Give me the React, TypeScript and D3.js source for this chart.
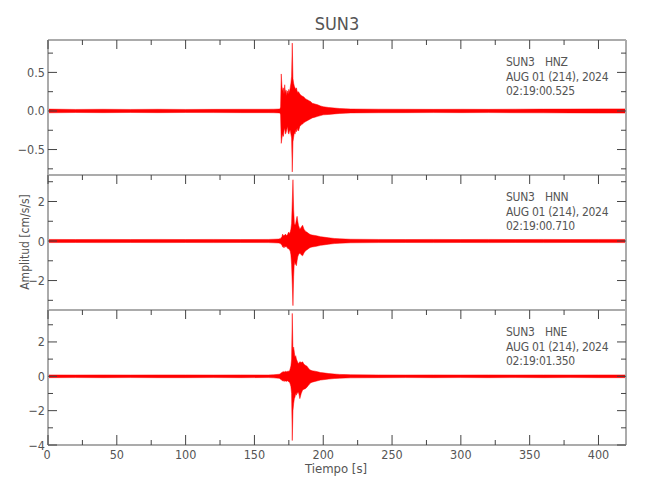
import * as d3 from "d3";

// ─── Data (envelope of each trace) ───────────────────────────────────────────

const STATION = "SUN3";
const DATE_LABEL = "AUG 01 (214), 2024";
const CHANNELS = ["HNZ", "HNN", "HNE"];
const START_TIMES = ["02:19:00.525", "02:19:00.710", "02:19:01.350"];

// time in seconds (shared grid, denser around the event)
const TIME = [
  0, 20, 40, 60, 80, 100, 120, 140, 160, 164,
  168, 168.5, 169, 169.5, 170, 170.5, 171, 171.5, 172, 172.5,
  173, 173.5, 174, 174.5, 175, 175.5, 176, 176.5, 177, 177.5,
  178, 178.5, 179, 179.5, 180, 180.5, 181, 181.5, 182, 183,
  184, 185, 186, 187, 188, 189, 190, 191, 192, 194,
  196, 198, 200, 204, 208, 212, 216, 220, 240, 260,
  280, 300, 320, 340, 360, 380, 400, 420,
];

// upper / lower envelope, cm/s/s
const HNZ_HI = [
  0.024, 0.02, 0.022, 0.02, 0.022, 0.02, 0.021, 0.022, 0.022, 0.023,
  0.025, 0.025, 0.05, 0.48, 0.32, 0.26, 0.3, 0.22, 0.34, 0.24,
  0.27, 0.2, 0.26, 0.22, 0.28, 0.24, 0.3, 0.36, 0.45, 0.88,
  0.42, 0.36, 0.32, 0.3, 0.28, 0.3, 0.26, 0.24, 0.25, 0.22,
  0.2, 0.19, 0.18, 0.16, 0.15, 0.14, 0.13, 0.12, 0.1, 0.09,
  0.08, 0.065, 0.055, 0.045, 0.038, 0.032, 0.028, 0.025, 0.023, 0.022,
  0.021, 0.022, 0.021, 0.023, 0.024, 0.025, 0.027, 0.027,
];
const HNZ_LO = [
  -0.024, -0.02, -0.022, -0.02, -0.022, -0.02, -0.021, -0.022, -0.022, -0.023,
  -0.025, -0.025, -0.05, -0.42, -0.35, -0.3, -0.33, -0.26, -0.22, -0.3,
  -0.28, -0.24, -0.2, -0.28, -0.3, -0.26, -0.25, -0.3, -0.35, -0.79,
  -0.4, -0.34, -0.28, -0.3, -0.25, -0.27, -0.22, -0.25, -0.26, -0.2,
  -0.18, -0.17, -0.15, -0.14, -0.13, -0.12, -0.11, -0.1, -0.09, -0.08,
  -0.07, -0.06, -0.05, -0.045, -0.038, -0.032, -0.028, -0.025, -0.023, -0.022,
  -0.021, -0.022, -0.021, -0.023, -0.024, -0.025, -0.027, -0.027,
];
const HNN_HI = [
  0.08, 0.075, 0.08, 0.075, 0.08, 0.075, 0.08, 0.075, 0.08, 0.09,
  0.1, 0.13, 0.12, 0.18, 0.22, 0.35, 0.25, 0.3, 0.28, 0.35,
  0.3, 0.28, 0.32, 0.4, 0.45, 0.35, 0.45, 0.6, 0.9, 2.0,
  3.1, 1.6, 0.9, 0.8, 0.9, 1.1, 1.25, 1.0, 0.8, 0.6,
  0.7, 0.8, 0.6, 0.5, 0.45, 0.4, 0.35, 0.32, 0.3, 0.28,
  0.25, 0.22, 0.2, 0.16, 0.13, 0.11, 0.1, 0.09, 0.08, 0.075,
  0.08, 0.075, 0.08, 0.075, 0.08, 0.075, 0.08, 0.08,
];
const HNN_LO = [
  -0.08, -0.075, -0.08, -0.075, -0.08, -0.075, -0.08, -0.075, -0.08, -0.09,
  -0.1, -0.13, -0.12, -0.18, -0.22, -0.3, -0.28, -0.35, -0.25, -0.3,
  -0.28, -0.3, -0.35, -0.4, -0.38, -0.45, -0.5, -0.7, -1.2, -2.2,
  -3.27, -1.8, -1.0, -1.2, -1.1, -1.25, -1.0, -0.8, -0.7, -0.6,
  -0.7, -0.75, -0.6, -0.5, -0.45, -0.4, -0.35, -0.32, -0.3, -0.28,
  -0.25, -0.22, -0.2, -0.16, -0.13, -0.11, -0.1, -0.09, -0.08, -0.075,
  -0.08, -0.075, -0.08, -0.075, -0.08, -0.075, -0.08, -0.08,
];
const HNE_HI = [
  0.08, 0.075, 0.08, 0.075, 0.08, 0.08, 0.075, 0.08, 0.075, 0.09,
  0.12, 0.14, 0.17, 0.2, 0.22, 0.25, 0.28, 0.24, 0.27, 0.3,
  0.25, 0.28, 0.3, 0.26, 0.32, 0.3, 0.45, 0.6, 1.0, 3.66,
  1.5, 1.7, 1.4, 1.1, 1.2, 1.0, 0.9, 0.8, 0.75, 0.85,
  0.8, 0.84, 0.7, 0.64, 0.6, 0.5, 0.4, 0.35, 0.32, 0.3,
  0.26, 0.22, 0.2, 0.16, 0.13, 0.11, 0.1, 0.09, 0.08, 0.075,
  0.08, 0.075, 0.08, 0.075, 0.08, 0.075, 0.08, 0.08,
];
const HNE_LO = [
  -0.08, -0.075, -0.08, -0.075, -0.08, -0.08, -0.075, -0.08, -0.075, -0.09,
  -0.12, -0.14, -0.17, -0.2, -0.24, -0.26, -0.28, -0.25, -0.3, -0.27,
  -0.28, -0.3, -0.26, -0.3, -0.32, -0.35, -0.45, -0.6, -1.0, -3.74,
  -2.0, -1.6, -1.3, -1.2, -1.0, -1.1, -0.9, -1.0, -0.9, -1.3,
  -1.0, -0.8, -0.75, -0.72, -0.65, -0.55, -0.45, -0.38, -0.34, -0.3,
  -0.26, -0.22, -0.2, -0.16, -0.13, -0.11, -0.1, -0.09, -0.08, -0.075,
  -0.08, -0.075, -0.08, -0.075, -0.08, -0.075, -0.08, -0.08,
];

const Y_DOMAINS: [number, number][] = [
  [-0.83, 0.92],
  [-3.49, 3.34],
  [-4.0, 3.86],
];
const Y_MAJOR = [
  [-0.5, 0, 0.5],
  [-2, 0, 2],
  [-4, -2, 0, 2],
];
const Y_MINOR = [
  [-0.75, -0.25, 0.25, 0.75],
  [-3, -1, 1, 3],
  [-3, -1, 1, 3],
];
const Y_FORMATS = [".1f", "d", "d"];

const X_DOMAIN: [number, number] = [0, 420];
const X_MAJOR = [0, 50, 100, 150, 200, 250, 300, 350, 400];
const X_MINOR = [25, 75, 125, 175, 225, 275, 325, 375];

// ─── Styles ──────────────────────────────────────────────────────────────────

const W = 650;
const H = 500;
const LEFT = 48;
const RIGHT = 626;
const TOP = 40;
const PANEL_H = 135;
const FONT = "'DejaVu Sans Condensed', 'Liberation Sans Narrow', sans-serif";
const TEXT = "#555";
const FRAME = "#ababab";
const TICK = "#444";
const TRACE = "#ff0000";

const TRACES = [
  { hi: HNZ_HI, lo: HNZ_LO },
  { hi: HNN_HI, lo: HNN_LO },
  { hi: HNE_HI, lo: HNE_LO },
];

export default function App() {
  const x = d3.scaleLinear().domain(X_DOMAIN).range([LEFT, RIGHT]);
  const idx = d3.range(TIME.length);

  return (
    <svg
      width={W}
      height={H}
      style={{ position: "absolute", left: 0, top: 0, background: "#fff" }}
      fontFamily={FONT}
    >
      <text x={337} y={30} textAnchor="middle" fontSize={18} fill={TEXT}>
        {STATION}
      </text>

      {TRACES.map((tr, p) => {
        const top = TOP + p * PANEL_H;
        const bottom = top + PANEL_H;
        const y = d3.scaleLinear().domain(Y_DOMAINS[p]).range([bottom, top]);
        const fmt = d3.format(Y_FORMATS[p]);
        const area = d3
          .area<number>()
          .x((i) => x(TIME[i]))
          .y0((i) => y(tr.lo[i]))
          .y1((i) => y(tr.hi[i]));
        const isLast = p === TRACES.length - 1;
        return (
          <g key={p}>
            <defs>
              <clipPath id={`clip${p}`}>
                <rect x={LEFT} y={top} width={RIGHT - LEFT} height={PANEL_H} />
              </clipPath>
            </defs>
            <path
              d={area(idx) ?? ""}
              fill={TRACE}
              stroke={TRACE}
              strokeWidth={0.5}
              strokeLinejoin="round"
              clipPath={`url(#clip${p})`}
            />

            {/* frame */}
            <line x1={LEFT} x2={RIGHT} y1={top} y2={top} stroke={FRAME} strokeWidth={2} />
            <line x1={LEFT} x2={LEFT} y1={top} y2={bottom} stroke={FRAME} strokeWidth={2} />
            <line x1={RIGHT} x2={RIGHT} y1={top} y2={bottom} stroke={FRAME} strokeWidth={2} />
            {isLast && (
              <line x1={LEFT} x2={RIGHT} y1={bottom} y2={bottom} stroke={FRAME} strokeWidth={2} />
            )}

            {/* top x ticks */}
            {X_MAJOR.concat(X_MINOR).map((t) => {
              const len = X_MAJOR.includes(t) ? 9 : 5;
              return (
                <line
                  key={`tt${t}`}
                  x1={x(t)}
                  x2={x(t)}
                  y1={top}
                  y2={top + len}
                  stroke={TICK}
                  strokeWidth={1}
                />
              );
            })}

            {/* y ticks, both sides */}
            {Y_MAJOR[p].concat(Y_MINOR[p]).map((v) => {
              const len = Y_MAJOR[p].includes(v) ? 9 : 5;
              return (
                <g key={`yt${v}`}>
                  <line x1={LEFT} x2={LEFT + len} y1={y(v)} y2={y(v)} stroke={TICK} strokeWidth={1} />
                  <line x1={RIGHT} x2={RIGHT - len} y1={y(v)} y2={y(v)} stroke={TICK} strokeWidth={1} />
                </g>
              );
            })}
            {Y_MAJOR[p].map((v) => (
              <text
                key={`yl${v}`}
                x={45}
                y={y(v)}
                dy="0.36em"
                textAnchor="end"
                fontSize={12.5}
                fill={TEXT}
              >
                {fmt(v)}
              </text>
            ))}

            {/* channel annotation */}
            <g fontSize={12} fill={TEXT} letterSpacing={-0.3}>
              <text x={506} y={top + 26}>{STATION}</text>
              <text x={545} y={top + 26}>{CHANNELS[p]}</text>
              <text x={506} y={top + 40.5}>{DATE_LABEL}</text>
              <text x={506} y={top + 54.5}>{START_TIMES[p]}</text>
            </g>

            {isLast && (
              <g>
                {X_MAJOR.concat(X_MINOR).map((t) => {
                  const len = X_MAJOR.includes(t) ? 10 : 5;
                  return (
                    <line
                      key={`bt${t}`}
                      x1={x(t)}
                      x2={x(t)}
                      y1={bottom}
                      y2={bottom - len}
                      stroke={TICK}
                      strokeWidth={1}
                    />
                  );
                })}
                {X_MAJOR.map((t) => (
                  <text
                    key={`xl${t}`}
                    x={t === 0 ? x(t) - 1 : x(t)}
                    y={459}
                    textAnchor="middle"
                    fontSize={12.5}
                    fill={TEXT}
                  >
                    {t}
                  </text>
                ))}
              </g>
            )}
          </g>
        );
      })}

      <text x={336} y={473} textAnchor="middle" fontSize={13} fill={TEXT}>
        Tiempo [s]
      </text>
      <text
        transform="translate(29,242) rotate(-90)"
        textAnchor="middle"
        fontSize={12}
        fill={TEXT}
      >
        Amplitud [cm/s/s]
      </text>
    </svg>
  );
}
